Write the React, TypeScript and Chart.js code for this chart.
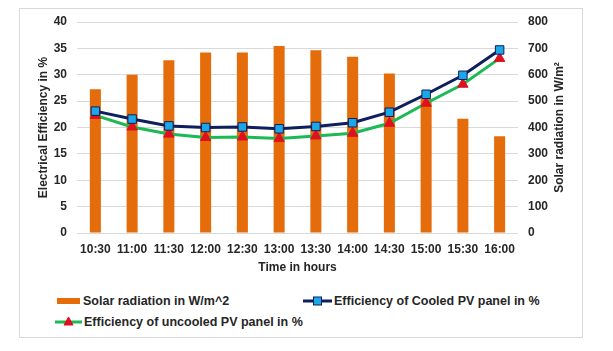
import React, { useEffect, useRef } from "react";
import { Chart, registerables } from "chart.js";

Chart.register(...registerables);

const categories = ["10:30", "11:00", "11:30", "12:00", "12:30", "13:00", "13:30", "14:00", "14:30", "15:00", "15:30", "16:00"];
const solarRadiation = [545, 600, 655, 684, 684, 709, 693, 668, 605, 510, 433, 367];
const cooledEfficiency = [23.1, 21.6, 20.3, 20.0, 20.1, 19.75, 20.2, 20.9, 22.9, 26.3, 29.9, 34.7];
const uncooledEfficiency = [22.3, 20.1, 18.75, 18.1, 18.2, 17.9, 18.4, 18.9, 20.8, 24.6, 28.2, 33.1];
const leftTicks = { min: 0, max: 40, step: 5 };
const rightTicks = { min: 0, max: 800, step: 100 };

const labelSolar = "Solar radiation in W/m^2";
const labelCooled = "Efficiency of Cooled PV panel in %";
const labelUncooled = "Efficiency of uncooled PV panel in %";
const rightTitle = "Solar radiation in W/m\u00B2";

const ORANGE = "#E46C0A";
const NAVY = "#0D1F5C";
const LIGHTBLUE = "#1EA7E8";
const GREEN = "#1DB954";
const RED = "#E0101E";
const TEXT = "#262626";
const FONT = "'Liberation Sans', Arial, sans-serif";

const rightTitlePlugin = {
  id: "rightTitle",
  afterDraw(chart: any) {
    const { ctx, chartArea } = chart;
    ctx.save();
    ctx.font = `bold 12px ${FONT}`;
    ctx.fillStyle = TEXT;
    ctx.textAlign = "center";
    ctx.textBaseline = "middle";
    ctx.translate(540, (chartArea.top + chartArea.bottom) / 2);
    ctx.rotate(-Math.PI / 2);
    ctx.fillText(rightTitle, 0, 0);
    ctx.restore();
  },
};

export default function App() {
  const ref = useRef<HTMLCanvasElement | null>(null);

  useEffect(() => {
    if (!ref.current) return;
    const chart = new Chart(ref.current, {
      type: "bar",
      data: {
        labels: categories,
        datasets: [
          {
            type: "line",
            label: labelCooled,
            data: cooledEfficiency,
            yAxisID: "y",
            borderColor: NAVY,
            borderWidth: 3,
            pointStyle: "rect",
            pointRadius: 6,
            pointBackgroundColor: LIGHTBLUE,
            pointBorderColor: NAVY,
            pointBorderWidth: 1,
            tension: 0,
            order: 1,
          } as any,
          {
            type: "line",
            label: labelUncooled,
            data: uncooledEfficiency,
            yAxisID: "y",
            borderColor: GREEN,
            borderWidth: 3,
            pointStyle: "triangle",
            pointRadius: 6,
            pointBackgroundColor: RED,
            pointBorderColor: RED,
            pointBorderWidth: 1,
            tension: 0,
            order: 2,
          } as any,
          {
            type: "bar",
            label: labelSolar,
            data: solarRadiation,
            yAxisID: "y1",
            backgroundColor: ORANGE,
            barPercentage: 0.3,
            categoryPercentage: 1,
            order: 3,
          },
        ],
      },
      options: {
        animation: false,
        responsive: false,
        layout: { padding: { top: 13, left: 0, right: 0, bottom: 0 } },
        plugins: {
          legend: { display: false },
          tooltip: { enabled: false },
        },
        scales: {
          x: {
            grid: { display: false, drawTicks: false },
            border: { display: false },
            ticks: { color: TEXT, font: { family: FONT, size: 12, weight: "bold" }, padding: 9, maxRotation: 0 },
            title: {
              display: true,
              text: "Time in hours",
              color: TEXT,
              font: { family: FONT, size: 12, weight: "bold" },
              padding: { top: 4, bottom: 6 },
            },
            afterFit: (s: any) => {
              s.height = 48;
              s.paddingLeft = 0;
              s.paddingRight = 0;
            },
          },
          y: {
            position: "left",
            min: leftTicks.min,
            max: leftTicks.max,
            ticks: { stepSize: leftTicks.step, color: TEXT, font: { family: FONT, size: 12, weight: "bold" }, padding: 10 },
            grid: { color: "#D9D9D9", drawTicks: false, lineWidth: 1 },
            border: { display: false },
            title: {
              display: true,
              text: "Electrical Efficiency in %",
              color: TEXT,
              font: { family: FONT, size: 12, weight: "bold" },
              padding: { top: 16, bottom: 0 },
            },
            afterFit: (s: any) => {
              s.width = 57;
              s.paddingTop = 0;
              s.paddingBottom = 0;
            },
          },
          y1: {
            position: "right",
            min: rightTicks.min,
            max: rightTicks.max,
            ticks: { stepSize: rightTicks.step, color: TEXT, font: { family: FONT, size: 12, weight: "bold" }, padding: 10 },
            grid: { drawOnChartArea: false, drawTicks: false },
            border: { display: false },
            title: { display: false },
            afterFit: (s: any) => {
              s.width = 64;
              s.paddingTop = 0;
              s.paddingBottom = 0;
            },
          },
        },
      } as any,
      plugins: [rightTitlePlugin],
    });
    return () => chart.destroy();
  }, []);

  const textStyle: React.CSSProperties = {
    fontFamily: FONT,
    fontWeight: "bold",
    fontSize: "12.5px",
    color: TEXT,
    whiteSpace: "nowrap",
    lineHeight: "16px",
  };

  const item = (left: number, top: number, symbol: React.ReactNode, text: string) => (
    <div style={{ position: "absolute", left, top: top - 8, display: "flex", alignItems: "center", height: 16 }}>
      {symbol}
      <span style={{ ...textStyle, marginLeft: 2 }}>{text}</span>
    </div>
  );

  const barSymbol = (
    <svg width={24} height={16}>
      <rect x={0} y={5} width={23} height={6} fill={ORANGE} />
    </svg>
  );
  const cooledSymbol = (
    <svg width={29} height={16}>
      <line x1={0} y1={8} x2={29} y2={8} stroke={NAVY} strokeWidth={3} />
      <rect x={10.5} y={4} width={8} height={8} fill={LIGHTBLUE} stroke={NAVY} strokeWidth={1} />
    </svg>
  );
  const uncooledSymbol = (
    <svg width={27} height={16}>
      <line x1={0} y1={8} x2={27} y2={8} stroke={GREEN} strokeWidth={3} />
      <polygon points="13.5,3 18,11 9,11" fill={RED} stroke={RED} strokeWidth={1} />
    </svg>
  );

  return (
    <div
      style={{
        position: "relative",
        width: 564,
        height: 330,
        marginLeft: 11,
        border: "1px solid #D9D9D9",
        boxSizing: "border-box",
        background: "#fff",
      }}
    >
      <canvas ref={ref} width={562} height={272} style={{ display: "block", width: 562, height: 272 }} />
      {item(37, 292, barSymbol, labelSolar)}
      {item(283, 292, cooledSymbol, labelCooled)}
      {item(35, 313, uncooledSymbol, labelUncooled)}
    </div>
  );
}
